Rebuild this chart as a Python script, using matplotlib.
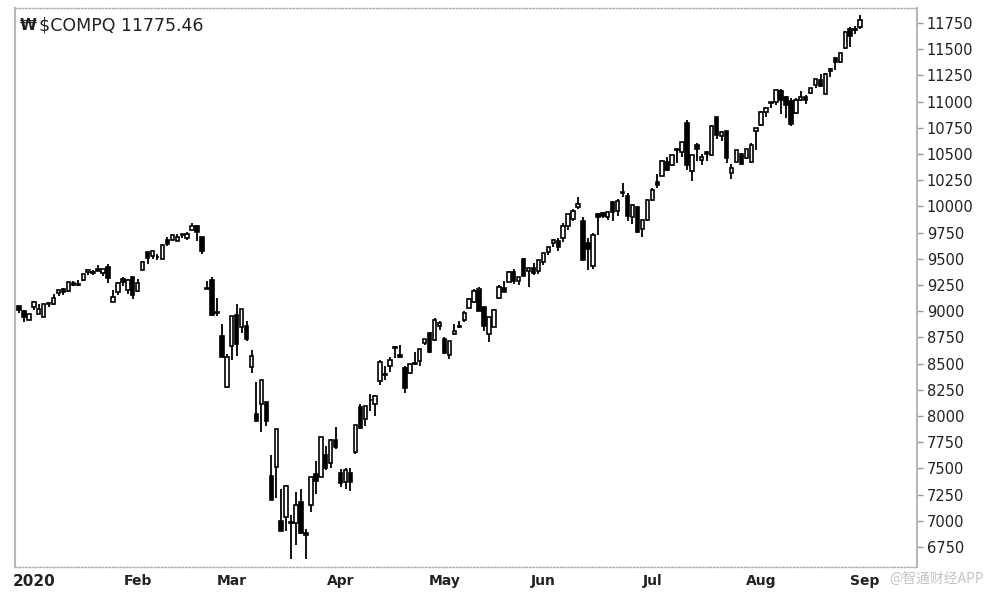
import numpy as np
import pandas as pd
import matplotlib
matplotlib.use("Agg")
import matplotlib.pyplot as plt

# trading days shown: 27 Dec 2019 .. 31 Aug 2020
holidays = ["2020-01-01", "2020-01-20", "2020-02-17", "2020-04-10",
            "2020-05-25", "2020-07-03"]
dates = pd.bdate_range("2019-12-27", "2020-08-31", freq="C", holidays=holidays)

opens = [
    9049, 9004, 8919,
    # Jan
    9039, 8976, 8943, 9069, 9069, 9170, 9213, 9189, 9269, 9253, 9296,
    9376, 9360, 9398, 9368, 9426, 9092, 9187, 9303, 9200, 9324,
    # Feb
    9190, 9394, 9561, 9531, 9513, 9496, 9681, 9680, 9670, 9730, 9696,
    9776, 9814, 9704, 9210, 9297, 8995, 8763, 8274,
    # Mar
    8667, 8965, 8852, 8856, 8470, 8016, 8110, 8129, 7432, 7513, 7002,
    7038, 6981, 6978, 7182, 6879, 7153, 7445, 7414, 7632, 7553, 7771,
    # Apr
    7460, 7371, 7460, 7660, 8083, 7975, 8150, 8110, 8336, 8403, 8475,
    8661, 8582, 8459, 8410, 8502, 8526, 8701, 8796, 8726, 8862,
    # May
    8731, 8578, 8778, 8849, 8918, 9033, 9085, 9214, 9038, 8783, 8847,
    9125, 9224, 9279, 9372, 9286, 9501, 9380, 9413, 9382,
    # Jun
    9471, 9565, 9652, 9666, 9702, 9814, 9875, 9990, 9864, 9647, 9429,
    9926, 9941, 9895, 10045, 9960, 10130, 10103, 9902, 9998, 9784, 9867,
    # Jul
    10064, 10236, 10293, 10423, 10391, 10542, 10516, 10796, 10334, 10587, 10444,
    10519, 10490, 10852, 10676, 10716, 10316, 10427, 10499, 10458, 10426, 10715,
    # Aug
    10772, 10896, 10988, 10996, 11103, 11040, 11001, 10891, 11013, 11046, 11084,
    11163, 11204, 11077, 11294, 11419, 11378, 11511, 11694, 11686, 11715,
]
highs = [
    9052, 9007, 8976,
    9093, 9065, 9072, 9091, 9168, 9204, 9219, 9274, 9286, 9295, 9358,
    9390, 9394, 9440, 9403, 9451, 9203, 9280, 9323, 9303, 9324,
    9303, 9475, 9568, 9572, 9548, 9629, 9705, 9726, 9738, 9732, 9753,
    9838, 9818, 9705, 9292, 9322, 9130, 8876, 8591,
    8953, 9071, 9019, 8904, 8632, 8329, 8345, 8134, 7632, 7875, 7300,
    7343, 7054, 7272, 7306, 6920, 7418, 7568, 7797, 7715, 7782, 7897,
    7496, 7505, 7503, 7917, 8112, 8092, 8210, 8199, 8535, 8476, 8567,
    8664, 8673, 8475, 8500, 8612, 8640, 8735, 8799, 8938, 8908,
    8750, 8710, 8875, 8911, 8997, 9122, 9212, 9233, 9039, 8943, 9017,
    9252, 9287, 9382, 9399, 9329, 9505, 9413, 9462, 9492,
    9553, 9608, 9687, 9694, 9845, 9925, 9979, 10086, 9900, 9700, 9746,
    9933, 9951, 9947, 10053, 10070, 10221, 10125, 10021, 10000, 9874, 10071,
    10176, 10310, 10443, 10467, 10493, 10549, 10617, 10824, 10493, 10608, 10501,
    10528, 10775, 10852, 10720, 10723, 10400, 10541, 10513, 10548, 10601, 10750,
    10909, 10953, 10999, 11108, 11121, 11051, 11034, 11031, 11101, 11060, 11131,
    11216, 11260, 11276, 11322, 11421, 11467, 11670, 11708, 11719, 11829,
]
lows = [
    8980, 8900, 8915,
    9010, 8976, 8943, 9042, 9059, 9145, 9159, 9180, 9242, 9240, 9290,
    9347, 9347, 9380, 9331, 9271, 9089, 9157, 9243, 9161, 9119,
    9186, 9389, 9451, 9497, 9491, 9494, 9620, 9679, 9667, 9694, 9682,
    9775, 9667, 9542, 9208, 8957, 8957, 8566, 8264,
    8536, 8575, 8790, 8712, 8407, 7943, 7845, 7901, 7195, 7217, 6904,
    6902, 6631, 6772, 6875, 6631, 7087, 7257, 7414, 7482, 7506, 7685,
    7324, 7300, 7284, 7637, 7875, 7908, 8050, 8003, 8300, 8342, 8423,
    8550, 8557, 8222, 8399, 8490, 8475, 8677, 8600, 8711, 8816,
    8587, 8541, 8775, 8838, 8901, 9026, 9076, 9001, 8810, 8705, 8846,
    9116, 9182, 9278, 9261, 9248, 9334, 9231, 9343, 9354,
    9444, 9536, 9614, 9577, 9663, 9779, 9863, 9978, 9492, 9389, 9403,
    9723, 9885, 9868, 9858, 9904, 10094, 9856, 9833, 9745, 9712, 9862,
    10053, 10171, 10291, 10341, 10381, 10410, 10473, 10343, 10246, 10433, 10396,
    10436, 10477, 10643, 10626, 10410, 10259, 10420, 10397, 10449, 10416, 10536,
    10770, 10856, 10937, 10966, 10880, 10839, 10771, 10885, 11009, 10973, 11070,
    11131, 11140, 11070, 11236, 11303, 11365, 11501, 11522, 11642, 11694,
]
closes = [
    9006.6, 8946.0, 8972.6,
    9092, 9021, 9071, 9069, 9129, 9203, 9179, 9274, 9251, 9259, 9357,
    9389, 9371, 9384, 9402, 9315, 9139, 9270, 9275, 9299, 9151,
    9273, 9468, 9509, 9572, 9521, 9628, 9639, 9726, 9712, 9731, 9733,
    9817, 9751, 9577, 9221, 8966, 8981, 8566, 8567,
    8952, 8684, 9018, 8739, 8576, 7951, 8344, 7952, 7202, 7875, 6905,
    7335, 6990, 7151, 6880, 6861, 7418, 7384, 7798, 7502, 7774, 7700,
    7361, 7487, 7373, 7913, 7887, 8091, 8154, 8192, 8516, 8393, 8532,
    8650, 8561, 8263, 8495, 8495, 8635, 8730, 8608, 8915, 8890,
    8605, 8711, 8809, 8854, 8980, 9121, 9192, 9003, 8863, 8944, 9015,
    9235, 9185, 9376, 9285, 9325, 9340, 9412, 9369, 9490,
    9552, 9608, 9683, 9616, 9814, 9925, 9954, 10020, 9493, 9589, 9726,
    9896, 9911, 9943, 9946, 10056, 10131, 9909, 10017, 9757, 9874, 10059,
    10155, 10208, 10434, 10344, 10493, 10548, 10617, 10391, 10489, 10550, 10474,
    10503, 10767, 10680, 10706, 10461, 10363, 10536, 10402, 10543, 10588, 10745,
    10903, 10941, 10998, 11108, 11011, 10968, 10783, 11012, 11043, 11019, 11130,
    11211, 11146, 11265, 11312, 11380, 11466, 11665, 11625, 11696, 11775.46,
]

month_labels = ["2020", "Feb", "Mar", "Apr", "May", "Jun", "Jul", "Aug", "Sep"]
y_ticks = list(range(6750, 11751, 250))


def plot():
    o = np.array(opens, float)
    h = np.array(highs, float)
    l = np.array(lows, float)
    c = np.array(closes, float)
    x = np.arange(len(dates))

    fig = plt.figure(figsize=(9.88, 5.96), dpi=100)
    ax = fig.add_axes([15 / 988, 29 / 596, 902 / 988, 559 / 596])

    ax.vlines(x, l, h, color="black", linewidth=1.3, zorder=2)
    up = c >= o
    body_lo = np.minimum(o, c)
    body_h = np.maximum(np.abs(c - o), 6)
    ax.bar(x[up], body_h[up], bottom=body_lo[up], width=0.7,
           facecolor="white", edgecolor="black", linewidth=1.2, zorder=3)
    ax.bar(x[~up], body_h[~up], bottom=body_lo[~up], width=0.7,
           facecolor="black", edgecolor="black", linewidth=1.2, zorder=3)

    # month ticks: first trading day of each month (Sep 1 one step past end)
    month_pos = []
    for m in range(1, 9):
        month_pos.append(int(np.argmax((dates.month == m) & (dates.year == 2020))))
    month_pos.append(len(dates))
    ax.set_xticks(month_pos)
    ax.set_xticklabels(month_labels)
    for i, t in enumerate(ax.get_xticklabels()):
        t.set_fontweight("bold")
        t.set_fontsize(11 if i == 0 else 10)
        t.set_color("#222222")
    ax.tick_params(axis="x", length=0, pad=5)

    ax.set_xlim(-0.8, 181.5)
    ax.set_ylim(6559, 11893)
    ax.yaxis.tick_right()
    ax.set_yticks(y_ticks)
    ax.set_yticklabels([str(v) for v in y_ticks])
    ax.tick_params(axis="y", length=4, width=1, color="#999999",
                   labelsize=10.5, labelcolor="#222222", pad=3)

    for side in ["left", "right"]:
        ax.spines[side].set_color("#b8b8b8")
        ax.spines[side].set_linewidth(1.5)
    for side in ["top", "bottom"]:
        ax.spines[side].set_color("#aaaaaa")
        ax.spines[side].set_linewidth(1.0)
        ax.spines[side].set_linestyle((0, (1, 1.5)))

    ax.text(0.005, 0.983, "₩", transform=ax.transAxes, ha="left", va="top",
            fontsize=11, fontweight="bold", color="#222222")
    ax.text(0.027, 0.985, "$COMPQ 11775.46", transform=ax.transAxes,
            ha="left", va="top", fontsize=12.5, color="#222222")

    fig.text(0.996, (596 - 579) / 596, "@智通财经APP", ha="right", va="center",
             fontsize=10, color="#c4c4c4",
             family=["Noto Sans CJK SC", "DejaVu Sans"])

    fig.savefig("out.png", dpi=100, facecolor="white")


def main():
    plot()


if __name__ == "__main__":
    main()
